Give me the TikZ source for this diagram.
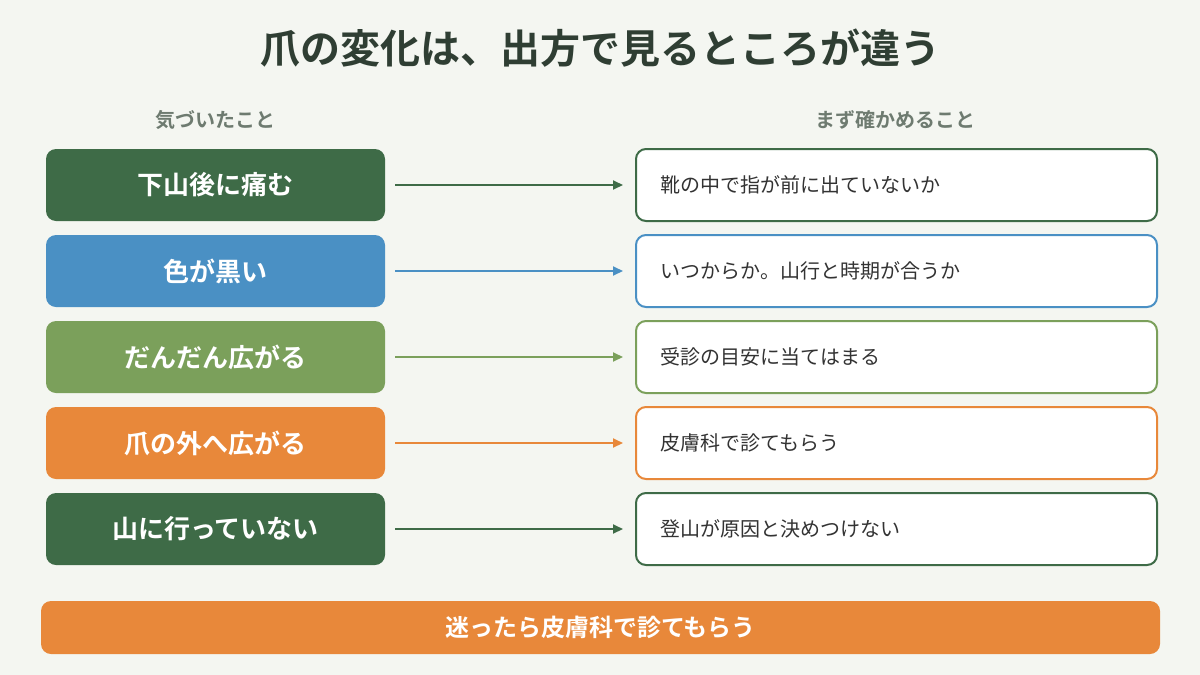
\documentclass[tikz,border=0pt]{standalone}
\usepackage{fontspec}
\setmainfont{Noto Sans CJK JP}[BoldFont={Noto Sans CJK JP Bold}]
\usetikzlibrary{arrows.meta}
\definecolor{bg}{HTML}{F4F6F1}
\definecolor{dg}{HTML}{3E6B47}
\definecolor{bl}{HTML}{4A90C4}
\definecolor{lg}{HTML}{7BA05B}
\definecolor{or}{HTML}{E8883A}
\definecolor{tt}{HTML}{2F3E33}
\definecolor{hd}{HTML}{6E7B70}
\begin{document}
\begin{tikzpicture}[x=0.5pt,y=-0.5pt,
  lbox/.style={rounded corners=5pt,minimum width=169.5pt,minimum height=36pt,text=white,font=\fontsize{13}{15}\selectfont\bfseries,inner sep=0},
  rbox/.style={draw,line width=1pt,fill=white,rounded corners=5pt,minimum width=260.5pt,minimum height=36pt,text=black!80,font=\fontsize{10}{12}\selectfont,inner xsep=12pt,inner ysep=0,text width=236pt,align=left},
  arr/.style={line width=1pt,-{Triangle[length=5pt,width=4.5pt]}}]
\fill[bg] (0,0) rectangle (1200,675);
\node[font=\fontsize{20}{24}\selectfont\bfseries,text=tt] (title) at (600,48) {爪の変化は、出方で見るところが違う};
\node[font=\fontsize{10}{12}\selectfont\bfseries,text=hd] (h1) at (215,120) {気づいたこと};
\node[font=\fontsize{10}{12}\selectfont\bfseries,text=hd] (h2) at (895,120) {まず確かめること};
\foreach \i/\c/\l/\r in {0/dg/下山後に痛む/靴の中で指が前に出ていないか,
  1/bl/色が黒い/いつからか。山行と時期が合うか,
  2/lg/だんだん広がる/受診の目安に当てはまる,
  3/or/爪の外へ広がる/皮膚科で診てもらう,
  4/dg/山に行っていない/登山が原因と決めつけない}{
  \node[lbox,fill=\c] (l\i) at (215.5,185+86*\i) {\l};
  \node[rbox,draw=\c,anchor=west] (r\i) at (635,185+86*\i) {\r};
  \draw[arr,draw=\c,fill=\c] ([xshift=5pt]l\i.east) -- ([xshift=-6pt]r\i.west);
}
\node[fill=or,rounded corners=5pt,minimum width=559.5pt,minimum height=26.5pt,inner sep=0,text=white,font=\fontsize{12}{14}\selectfont\bfseries] (bar) at (600.5,627.5) {迷ったら皮膚科で診てもらう};
\end{tikzpicture}
\end{document}
